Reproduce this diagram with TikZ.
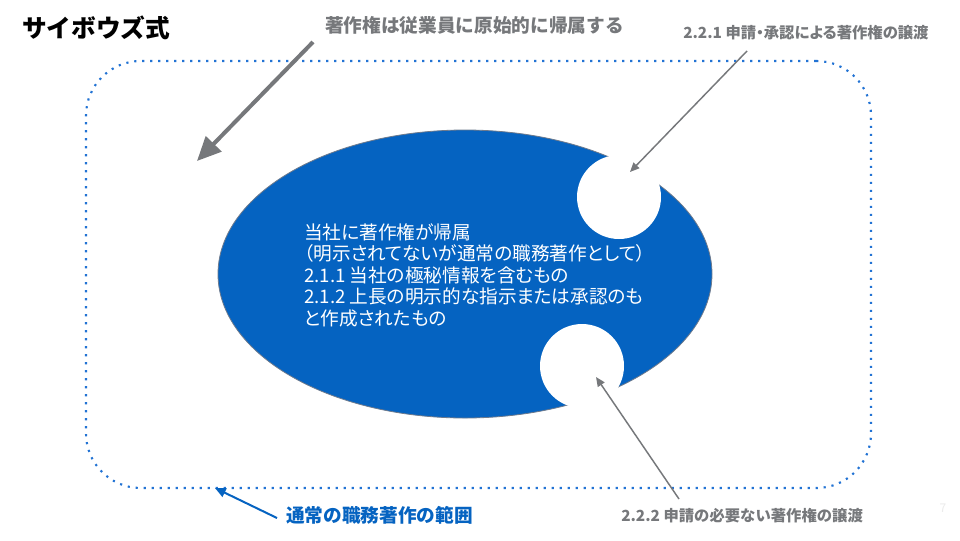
\documentclass[tikz,border=0pt]{standalone}
\usepackage{fontspec}
\setmainfont{Noto Sans CJK JP}
\newfontfamily\jpp[RawFeature=+palt]{Noto Sans CJK JP}
\usetikzlibrary{shapes.geometric,arrows.meta}
\definecolor{txtgray}{HTML}{76787B}
\definecolor{msblue}{HTML}{0563C1}
\definecolor{dotblue}{HTML}{2273D4}
\definecolor{edgegray}{HTML}{6E7A8C}
\tikzset{
  lbl/.style={inner sep=0pt, anchor=west},
  graylbl/.style={lbl, text=txtgray, font=\bfseries\fontsize{14pt}{16pt}\selectfont},
  smallgray/.style={lbl, text=txtgray, font=\bfseries\fontsize{11.5pt}{13pt}\selectfont},
  dotline/.style={draw=dotblue, line width=1.6pt, dash pattern=on 1.6pt off 4.4pt},
  bigarrow/.style={draw=txtgray, line width=3pt, -{Triangle[length=18pt,width=16pt]}},
  thinarrow/.style={draw=txtgray, line width=1.1pt, -{Triangle[length=7pt,width=6pt]}},
  bluearrow/.style={draw=msblue, line width=1.5pt, -{Triangle[length=8pt,width=7pt]}},
  hole/.style={circle, fill=white, minimum size=63pt, inner sep=0pt}
}
\begin{document}
\begin{tikzpicture}[x=0.75pt,y=-0.75pt]
\useasboundingbox[fill=white] (0,0) rectangle (960,540);
% region
\node (region) [dotline, rounded corners=41pt, minimum width=588.75pt, minimum height=320.25pt, inner sep=0pt] at (478.5,274.5) {};
% ellipse
\node (ell) [ellipse, fill=msblue, draw=edgegray, line width=0.6pt, minimum width=370.5pt, minimum height=216pt, inner sep=0pt] at (465,274) {};
\node (c1) [hole] at (619,197) {};
\node (c2) [hole] at (582,366) {};
% texts
\node (title) [lbl, font=\bfseries\fontsize{18.5pt}{20pt}\selectfont] at (22,28) {サイボウズ式};
\node (t1) [graylbl] at (325,25) {著作権は従業員に原始的に帰属する};
\node (t221) [smallgray, font=\jpp\bfseries\fontsize{11.5pt}{13pt}\selectfont] at (683,33) {2.2.1 申請・承認による著作権の譲渡};
\node (t222) [smallgray] at (621,516) {2.2.2 申請の必要ない著作権の譲渡};
\node (tblue) [lbl, text=msblue, font=\bfseries\fontsize{14pt}{16pt}\selectfont] at (286,515) {通常の職務著作の範囲};
\node (main) [lbl, text=white, align=left, font=\jpp\fontsize{14pt}{16.1pt}\selectfont] at (304,275) {当社に著作権が帰属\\（明示されてないが通常の職務著作として）\\2.1.1 当社の極秘情報を含むもの\\2.1.2 上長の明示的な指示または承認のも\\と作成されたもの};
\node (pg) [text=black!8, font=\fontsize{9pt}{10pt}\selectfont, inner sep=0pt] at (943,508) {7};
% arrow ends
\coordinate (a1s) at (313,42);
\coordinate (a1e) at (197,161);
\coordinate (a2s) at (747,51);
\coordinate (a2e) at (630,172);
\coordinate (a3s) at (679,499);
\coordinate (a3e) at (596,377);
\coordinate (a4s) at (277,518);
\coordinate (a4e) at (215,488);
\draw[bigarrow] (a1s) -- (a1e);
\draw[thinarrow] (a2s) -- (a2e);
\draw[thinarrow] (a3s) -- (a3e);
\draw[bluearrow] (a4s) -- (a4e);
\end{tikzpicture}
\end{document}
